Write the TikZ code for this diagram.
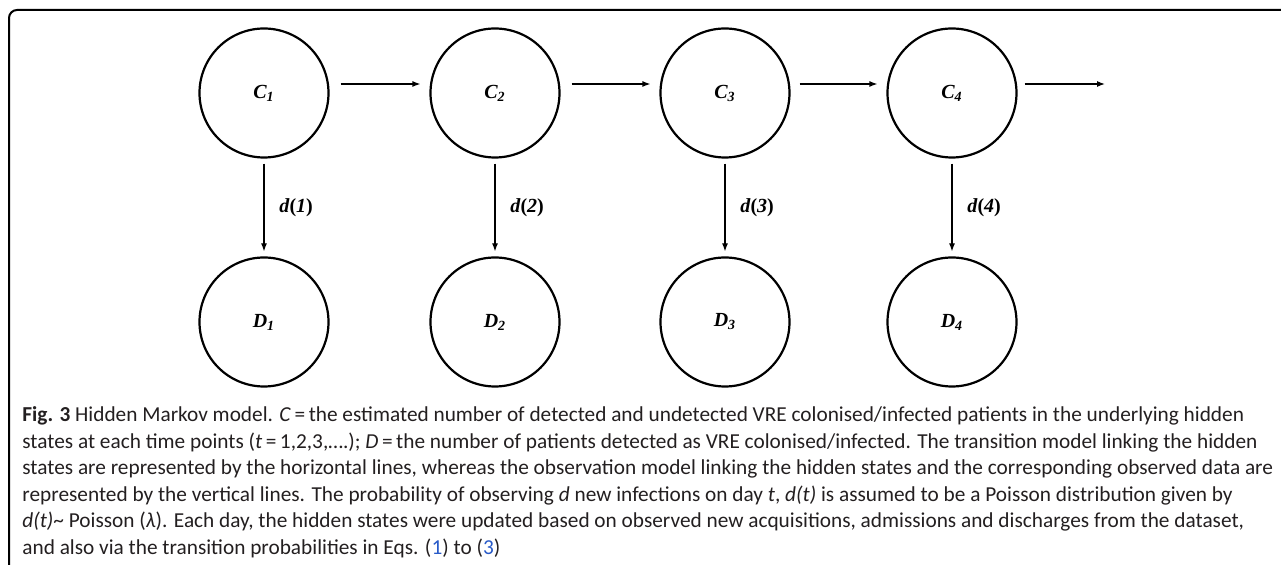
\documentclass[tikz,border=0pt]{standalone}
\usepackage{fontspec}
\setmainfont{Liberation Serif}
\newfontfamily\capfont{Carlito}
\usetikzlibrary{arrows.meta}
\definecolor{linkblue}{RGB}{40,90,200}
\definecolor{captext}{RGB}{35,31,32}
\tikzset{
  state/.style={circle, draw, line width=1.1pt, minimum size=64.5pt, inner sep=0pt,
    font=\fontsize{10}{12}\selectfont\bfseries\itshape},
  arr/.style={-{Latex[length=4pt,width=3pt]}, line width=0.6pt},
  lbl/.style={font=\fontsize{10}{12}\selectfont\bfseries},
  capline/.style={anchor=base west, inner sep=0pt, text=captext,
    font=\capfont\fontsize{10.65}{13}\selectfont},
}
\begin{document}
\begin{tikzpicture}[x=0.5pt,y=-0.5pt]
        \useasboundingbox (0,0) rectangle (1281,565);
        % frame
        \draw[line width=1pt, rounded corners=4pt] (9,565) -- (9,10) -- (1281,10);

        % hidden states
        \node[state] (C1) at (264,93) {C\textsubscript{1}};
        \node[state] (C2) at (495,93) {C\textsubscript{2}};
        \node[state] (C3) at (725,93) {C\textsubscript{3}};
        \node[state] (C4) at (952,93) {C\textsubscript{4}};
        \coordinate (Cnext) at (1105,84);

        % observed data
        \node[state] (D1) at (264,322) {D\textsubscript{1}};
        \node[state] (D2) at (495,322) {D\textsubscript{2}};
        \node[state] (D3) at (725,322) {D\textsubscript{3}};
        \node[state] (D4) at (952,322) {D\textsubscript{4}};

        % transition model
        \draw[arr] ([shift={(11,-9)}]C1.east) -- ([shift={(-9,-9)}]C2.west);
        \draw[arr] ([shift={(11,-9)}]C2.east) -- ([shift={(-9,-9)}]C3.west);
        \draw[arr] ([shift={(9,-9)}]C3.east) -- ([shift={(-9,-9)}]C4.west);
        \draw[arr] ([shift={(7,-9)}]C4.east) -- (Cnext);

        % observation model
        \draw[arr] ([yshift=-2.5pt]C1.south) -- node[lbl, right=4pt] {\textit{d}(\textit{1})} ([yshift=2.5pt]D1.north);
        \draw[arr] ([yshift=-2.5pt]C2.south) -- node[lbl, right=4pt] {\textit{d}(\textit{2})} ([yshift=2.5pt]D2.north);
        \draw[arr] ([yshift=-2.5pt]C3.south) -- node[lbl, right=4pt] {\textit{d}(\textit{3})} ([yshift=2.5pt]D3.north);
        \draw[arr] ([yshift=-2.5pt]C4.south) -- node[lbl, right=4pt] {\textit{d}(\textit{4})} ([yshift=2.5pt]D4.north);

        % caption
        \node[capline] (cap1) at (22,422) {\textbf{Fig. 3} Hidden Markov model. \textit{C}\,=\,the estimated number of detected and undetected VRE colonised/infected patients in the underlying hidden};
        \node[capline] (cap2) at (22,448.5) {states at each time points (\textit{t}\,=\,1,2,3,….); \textit{D}\,=\,the number of patients detected as VRE colonised/infected. The transition model linking the hidden};
        \node[capline] (cap3) at (22,475) {states are represented by the horizontal lines, whereas the observation model linking the hidden states and the corresponding observed data are};
        \node[capline] (cap4) at (22,501.5) {represented by the vertical lines. The probability of observing \textit{d} new infections on day \textit{t}, \textit{d(t)} is assumed to be a Poisson distribution given by};
        \node[capline] (cap5) at (22,528) {\textit{d(t)}\textasciitilde{} Poisson (\textit{λ}). Each day, the hidden states were updated based on observed new acquisitions, admissions and discharges from the dataset,};
        \node[capline] (cap6) at (22,554.5) {and also via the transition probabilities in Eqs. (\textcolor{linkblue}{1}) to (\textcolor{linkblue}{3})};
    \end{tikzpicture}
\end{document}
